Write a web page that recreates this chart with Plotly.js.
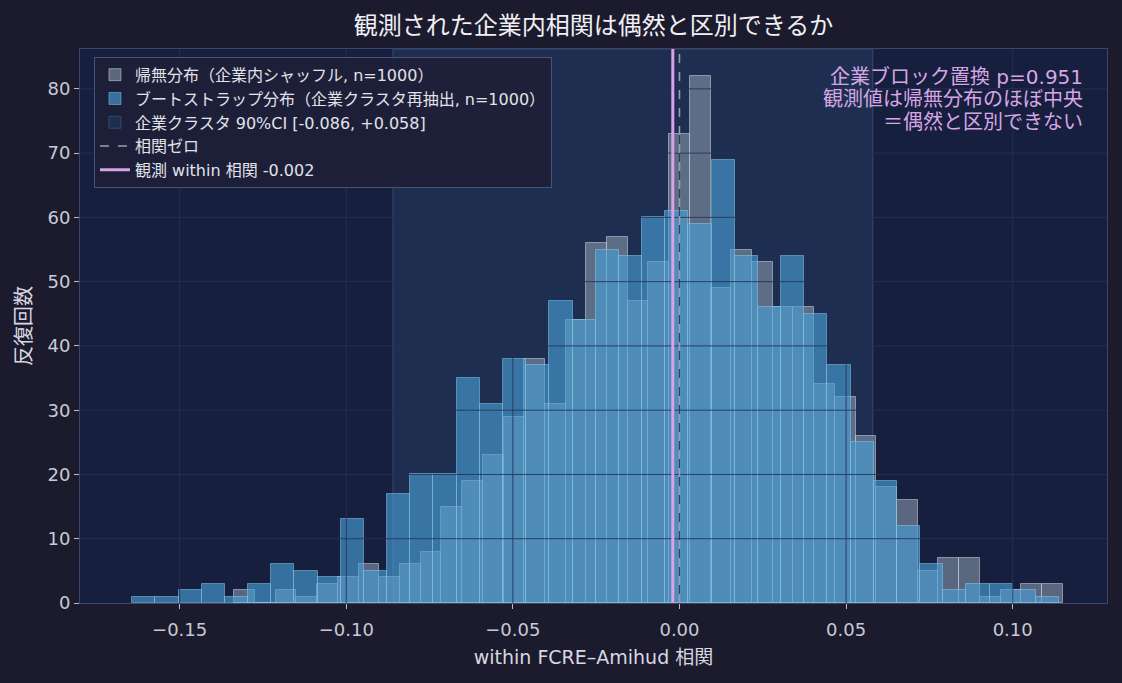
<!DOCTYPE html>
<html>
<head>
<meta charset="utf-8">
<script src="https://cdn.plot.ly/plotly-3.0.1.min.js"></script>
<style>
  html, body { margin: 0; padding: 0; background: #1c1b2e; }
  #chart { width: 1122px; height: 683px; }
</style>
</head>
<body>
<div id="chart"></div>
<script>
// histogram counts, 40 bins each
var nullCounts = [2, 0, 2, 1, 3, 4, 6, 4, 6, 8, 15, 19, 23, 29, 38, 31, 44, 56, 57, 47,
                  53, 73, 82, 49, 55, 53, 46, 46, 34, 32, 26, 18, 16, 5, 7, 7, 1, 2, 3, 3];
var bootCounts = [1, 1, 2, 3, 1, 3, 6, 5, 4, 13, 5, 17, 20, 20, 35, 31, 38, 37, 47, 44,
                  55, 54, 60, 61, 59, 69, 54, 46, 54, 45, 37, 25, 19, 12, 6, 2, 3, 3, 2, 1];
var nullRange = [-0.1336, 0.1150];
var bootRange = [-0.1642, 0.1139];
var ciRange = [-0.086, 0.058];
var observedCorr = -0.002;
var zeroCorr = 0;
var xTicks = [-0.15, -0.10, -0.05, 0.00, 0.05, 0.10];
var yTicks = [0, 10, 20, 30, 40, 50, 60, 70, 80];
var noteLines = ['企業ブロック置換 p=0.951', '観測値は帰無分布のほぼ中央', '＝偶然と区別できない'];

var binCenters = function (range, n)
{
    var w = (range[1] - range[0]) / n;
    var xs = [];
    for (var i = 0; i < n; i++) xs.push(range[0] + w * (i + 0.5));
    return {x: xs, width: w};
}

var nullBins = binCenters(nullRange, nullCounts.length);
var bootBins = binCenters(bootRange, bootCounts.length);

var nullTrace = {
    type: 'bar',
    name: '帰無分布（企業内シャッフル, n=1000）',
    x: nullBins.x,
    y: nullCounts,
    width: nullBins.width,
    marker: {color: 'rgba(140,155,172,0.58)', line: {color: 'rgba(215,225,240,0.5)', width: 1}},
    legendrank: 1,
    hoverinfo: 'skip'
};
var bootTrace = {
    type: 'bar',
    name: 'ブートストラップ分布（企業クラスタ再抽出, n=1000）',
    x: bootBins.x,
    y: bootCounts,
    width: bootBins.width,
    marker: {color: 'rgba(72,158,212,0.64)', line: {color: 'rgba(140,205,240,0.5)', width: 1}},
    legendrank: 2,
    hoverinfo: 'skip'
};

var gridColor = 'rgba(40,48,86,0.85)';
var shapes = [];
// CI band behind the bars
shapes.push({
    type: 'rect', layer: 'below', xref: 'x', yref: 'paper',
    x0: ciRange[0], x1: ciRange[1], y0: 0, y1: 1,
    fillcolor: '#1e2e50', line: {color: 'rgba(70,95,140,0.6)', width: 1},
    showlegend: true, legendrank: 3,
    name: '企業クラスタ 90%CI [-0.086, +0.058]'
});
// grid drawn over the bars like the original
yTicks.slice(1).forEach(function (v) {
    shapes.push({type: 'line', layer: 'above', xref: 'paper', yref: 'y',
        x0: 0, x1: 1, y0: v, y1: v, line: {color: gridColor, width: 1}});
});
xTicks.forEach(function (v) {
    shapes.push({type: 'line', layer: 'above', xref: 'x', yref: 'paper',
        x0: v, x1: v, y0: 0, y1: 1, line: {color: gridColor, width: 1}});
});
shapes.push({
    type: 'line', layer: 'above', xref: 'x', yref: 'paper',
    x0: zeroCorr, x1: zeroCorr, y0: 0, y1: 1,
    line: {color: '#9aa0ae', width: 1.6, dash: 'dash'},
    showlegend: true, legendrank: 4, name: '相関ゼロ'
});
shapes.push({
    type: 'line', layer: 'above', xref: 'x', yref: 'paper',
    x0: observedCorr, x1: observedCorr, y0: 0, y1: 1,
    line: {color: '#d9a2e6', width: 3},
    showlegend: true, legendrank: 5, name: '観測 within 相関 -0.002'
});

// note in the top right corner, one annotation per line
var notes = noteLines.map(function (t, i) {
    return {
        xref: 'paper', yref: 'paper', x: 0.9786, y: 0.95 - i * 0.0406,
        xanchor: 'right', yanchor: 'middle', showarrow: false,
        text: t, font: {size: 20, color: '#d6a6e4'}
    };
});

var font = '"DejaVu Sans", "Noto Sans CJK JP", sans-serif';
var layout = {
    width: 1122, height: 683,
    paper_bgcolor: '#1c1b2e',
    plot_bgcolor: '#171f3f',
    margin: {l: 80, r: 15, t: 49, b: 80},
    barmode: 'overlay',
    bargap: 0,
    font: {family: font, color: '#d0d0da', size: 16},
    title: {text: '観測された企業内相関は偶然と区別できるか', x: 0.5, xref: 'paper',
        y: 0.962, yref: 'container', yanchor: 'middle',
        font: {size: 24, color: '#f0f0f4'}},
    xaxis: {
        range: [-0.1799, 0.1283], tickvals: xTicks, tickformat: '.2f',
        showgrid: false, zeroline: false,
        showline: true, mirror: true, linecolor: '#3d4669', linewidth: 1,
        ticks: 'outside', ticklen: 5, tickcolor: '#b8bccb', ticklabelstandoff: 5,
        tickfont: {size: 18, color: '#c8cad4'},
        title: {text: 'within FCRE–Amihud 相関', font: {size: 19, color: '#d8d8e0'}, standoff: 12}
    },
    yaxis: {
        range: [0, 86.2], tickvals: yTicks,
        showgrid: false, zeroline: false,
        showline: true, mirror: true, linecolor: '#3d4669', linewidth: 1,
        ticks: 'outside', ticklen: 5, tickcolor: '#b8bccb',
        tickfont: {size: 18, color: '#c8cad4'},
        title: {text: '反復回数', font: {size: 20, color: '#d8d8e0'}, standoff: 10}
    },
    legend: {
        x: 0.0136, y: 0.986, xanchor: 'left', yanchor: 'top',
        bgcolor: 'rgba(29,31,54,0.92)', bordercolor: '#4a5174', borderwidth: 1,
        font: {size: 16, color: '#e2e2ea'}
    },
    shapes: shapes,
    annotations: notes
};

Plotly.newPlot('chart', [nullTrace, bootTrace], layout, {displayModeBar: false});
</script>
</body>
</html>
